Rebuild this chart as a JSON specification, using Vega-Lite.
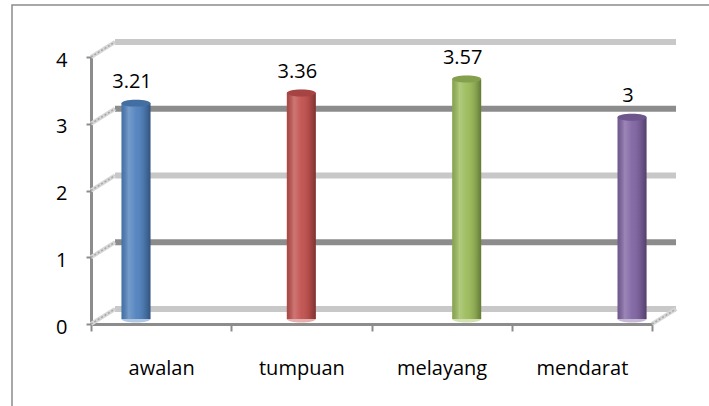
{
  "$schema": "https://vega.github.io/schema/vega-lite/v6.json",
  "width": 701,
  "height": 405,
  "padding": {"left": 12, "top": 5, "right": -4, "bottom": -4},
  "autosize": {"type": "none"},
  "background": "white",
  "config": {
    "font": "Open Sans",
    "view": {"stroke": "#8c8c8c", "strokeWidth": 1.5},
    "axis": {"labelColor": "#000000", "labelFontSize": 20, "labelFont": "Open Sans"}
  },
  "datasets": {
    "scores": [
      {"kategori": "awalan", "nilai": 3.21},
      {"kategori": "tumpuan", "nilai": 3.36},
      {"kategori": "melayang", "nilai": 3.57},
      {"kategori": "mendarat", "nilai": 3}
    ],
    "levels": [{"v": 0}, {"v": 1}, {"v": 2}, {"v": 3}, {"v": 4}]
  },
  "layer": [
    {
      "data": {"name": "levels"},
      "layer": [
        {
          "mark": {"type": "rule", "strokeWidth": 6, "xOffset": 24, "x2Offset": 24, "yOffset": -15},
          "encoding": {
            "x": {"datum": 0, "type": "quantitative", "scale": {"domain": [0, 4], "range": [79, 640]}, "axis": null},
            "x2": {"datum": 4},
            "y": {
              "field": "v", "type": "quantitative", "title": null,
              "scale": {"domain": [0, 4], "range": [319, 52]},
              "axis": {
                "values": [0, 1, 2, 3, 4], "format": "d", "grid": false, "offset": -79,
                "domainColor": "#8c8c8c", "domainWidth": 3,
                "tickColor": "#8c8c8c", "tickWidth": 2, "tickSize": 5,
                "labelPadding": 19, "labelOffset": 3
              }
            },
            "color": {"condition": {"test": "datum.v % 2 === 1", "value": "#8c8c8c"}, "value": "#c8c8c8"}
          }
        },
        {
          "mark": {"type": "rule", "strokeWidth": 4, "color": "#d6d6d6", "x2Offset": 24, "y2Offset": -15},
          "encoding": {
            "x": {"datum": 0, "type": "quantitative", "axis": null},
            "x2": {"datum": 0},
            "y": {"field": "v", "type": "quantitative", "title": null},
            "y2": {"field": "v"}
          }
        },
        {
          "mark": {"type": "rule", "strokeWidth": 1.5, "color": "#a8a8a8", "strokeDash": [2, 2], "x2Offset": 24, "y2Offset": -15},
          "encoding": {
            "x": {"datum": 0, "type": "quantitative", "axis": null},
            "x2": {"datum": 0},
            "y": {"field": "v", "type": "quantitative", "title": null},
            "y2": {"field": "v"}
          }
        },
        {
          "transform": [{"filter": "datum.v === 0"}],
          "mark": {"type": "rule", "strokeWidth": 4, "color": "#d6d6d6", "x2Offset": 24, "y2Offset": -15},
          "encoding": {
            "x": {"datum": 4, "type": "quantitative", "axis": null},
            "x2": {"datum": 4},
            "y": {"field": "v", "type": "quantitative", "title": null},
            "y2": {"field": "v"}
          }
        },
        {
          "transform": [{"filter": "datum.v === 0"}],
          "mark": {"type": "rule", "strokeWidth": 1.5, "color": "#a8a8a8", "strokeDash": [2, 2], "x2Offset": 24, "y2Offset": -15},
          "encoding": {
            "x": {"datum": 4, "type": "quantitative", "axis": null},
            "x2": {"datum": 4},
            "y": {"field": "v", "type": "quantitative", "title": null},
            "y2": {"field": "v"}
          }
        }
      ]
    },
    {
      "data": {"name": "scores"},
      "mark": {"type": "point", "opacity": 0},
      "encoding": {
        "x": {
          "field": "kategori", "type": "nominal", "sort": null, "title": null,
          "scale": {"type": "band", "range": [79, 640], "paddingInner": 0, "paddingOuter": 0},
          "axis": {
            "orient": "bottom", "offset": -86, "labelAngle": 0,
            "domainColor": "#8c8c8c", "domainWidth": 3,
            "tickBand": "extent", "tickColor": "#8c8c8c", "tickWidth": 2, "tickSize": 7,
            "labelPadding": 27
          }
        }
      }
    },
    {
      "data": {"name": "scores"},
      "encoding": {
        "x": {
          "field": "kategori", "type": "nominal", "sort": null, "axis": null,
          "scale": {"type": "band", "range": [41.3, 702.7], "paddingInner": 0, "paddingOuter": 0}
        },
        "y": {
          "field": "nilai", "type": "quantitative", "axis": null,
          "scale": {"domain": [0, 4], "range": [314, 45]}
        }
      },
      "layer": [
        {
          "mark": {"type": "point", "filled": true, "size": 841, "opacity": 0.45,
                   "shape": "M -1 0 A 1 0.24 0 1 0 1 0 A 1 0.24 0 1 0 -1 0 Z"},
          "encoding": {
            "y": {"datum": 0, "type": "quantitative"},
            "color": {
              "field": "kategori", "type": "nominal", "legend": null,
              "scale": {"domain": ["awalan", "tumpuan", "melayang", "mendarat"],
                        "range": ["#4f81bd", "#c0504d", "#9bbb59", "#8064a2"]}
            }
          }
        },
        {
          "mark": {"type": "bar", "width": 29},
          "encoding": {
            "color": {"field": "kategori", "type": "nominal", "legend": null}
          }
        },
        {
          "mark": {
            "type": "bar", "width": 29,
            "color": {
              "gradient": "linear", "x1": 0, "y1": 0, "x2": 1, "y2": 0,
              "stops": [
                {"offset": 0, "color": "rgba(0,0,0,0.12)"},
                {"offset": 0.25, "color": "rgba(255,255,255,0.22)"},
                {"offset": 0.5, "color": "rgba(255,255,255,0.05)"},
                {"offset": 0.8, "color": "rgba(0,0,0,0.12)"},
                {"offset": 1, "color": "rgba(0,0,0,0.35)"}
              ]
            }
          },
          "encoding": {}
        },
        {
          "mark": {"type": "point", "filled": true, "size": 841, "opacity": 1,
                   "shape": "M -1 0 A 1 0.24 0 1 0 1 0 A 1 0.24 0 1 0 -1 0 Z"},
          "encoding": {
            "color": {"field": "kategori", "type": "nominal", "legend": null}
          }
        },
        {
          "mark": {"type": "point", "filled": true, "size": 841, "opacity": 0.14, "color": "#000000",
                   "shape": "M -1 0 A 1 0.24 0 1 0 1 0 A 1 0.24 0 1 0 -1 0 Z"},
          "encoding": {}
        },
        {
          "mark": {"type": "text", "fontSize": 20, "color": "#000000", "baseline": "alphabetic", "dx": -4, "dy": -15},
          "encoding": {
            "text": {"field": "nilai", "type": "quantitative"}
          }
        }
      ]
    }
  ],
  "resolve": {
    "scale": {"x": "independent", "y": "independent", "color": "independent"},
    "axis": {"x": "independent", "y": "independent"}
  }
}
